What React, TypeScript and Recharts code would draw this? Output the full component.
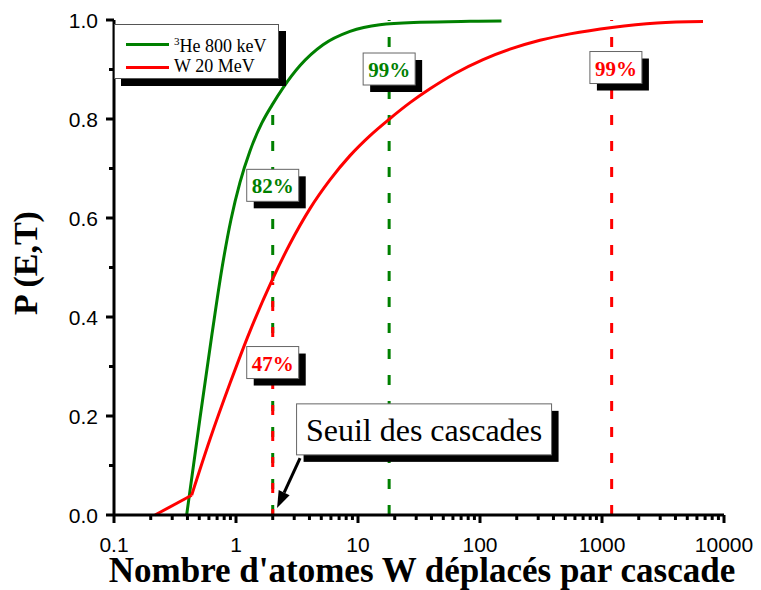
import {
  LineChart,
  Line,
  XAxis,
  YAxis,
  ReferenceLine,
  ReferenceDot,
} from "recharts";

// P(E,T) vs number of displaced W atoms per cascade
const HE_X = [0.394, 0.507, 0.636, 0.768, 0.91, 1.078, 1.3, 1.63, 1.973, 2.43, 3.35, 5.17, 8.6, 15.1, 32.2, 82.8, 150];
const HE_P = [0, 0.196, 0.366, 0.499, 0.597, 0.672, 0.735, 0.792, 0.828, 0.863, 0.908, 0.95, 0.977, 0.9905, 0.9954, 0.9974, 0.998];

const W_X = [0.217, 0.433, 0.612, 0.893, 1.3, 1.973, 2.77, 4.04, 5.89, 8.6, 12.5, 17.9, 26.7, 38.9, 62.4, 106, 176, 310, 547, 1208, 2824, 6730];
const W_P = [0, 0.04, 0.153, 0.266, 0.371, 0.474, 0.548, 0.619, 0.677, 0.726, 0.766, 0.799, 0.833, 0.861, 0.892, 0.92, 0.941, 0.959, 0.972, 0.985, 0.994, 0.997];

const MAJOR_X = [0.1, 1, 10, 100, 1000, 10000];
const MINOR_MULT = [2, 3, 4, 5, 6, 7, 8, 9];
const Y_TICKS = [0, 0.1, 0.2, 0.3, 0.4, 0.5, 0.6, 0.7, 0.8, 0.9, 1.0];

const GREEN = "#008000";
const RED = "#ff0000";

const heData = HE_X.map((x, i) => ({ x, y: HE_P[i] }));
const wData = W_X.map((x, i) => ({ x, y: W_P[i] }));
// the W curve has a sharp knee at its second point
const wFoot = wData.slice(0, 2);
const wBody = wData.slice(1);

const MINOR_X = MAJOR_X.slice(0, -1).flatMap((d) => MINOR_MULT.map((m) => +(d * m).toPrecision(3)));
const X_TICKS = [...MAJOR_X, ...MINOR_X].sort((a, b) => a - b);

// dashed guides: x position, height reached
const GUIDES = [
  { x: 2, top: 0.82, color: GREEN, offset: 0 },
  { x: 18, top: 1, color: GREEN, offset: 0 },
  { x: 2, top: 0.47, color: RED, offset: 4 },
  { x: 1200, top: 1, color: RED, offset: 0 },
];

const TAGS = [
  { text: "82%", x: 2, y: 0.666, color: GREEN },
  { text: "99%", x: 18, y: 0.901, color: GREEN },
  { text: "47%", x: 2, y: 0.308, color: RED },
  { text: "99%", x: 1300, y: 0.904, color: RED },
];

const SANS = "'Liberation Sans', Arial, sans-serif";
const SERIF = "'Liberation Serif', 'Times New Roman', serif";

const isMajorX = (v: number) => MAJOR_X.some((m) => Math.abs(m - v) < 1e-9);

const XTick = ({ x, y, payload }: any) => {
  const major = isMajorX(payload.value);
  return (
    <g>
      <line x1={x} x2={x} y1={y} y2={y + (major ? 8 : 5)} stroke="#000" strokeWidth={3} />
      {major && (
        <text x={x} y={y + 29} textAnchor="middle" dominantBaseline="central" fontSize={21} fontFamily={SANS} fill="#000">
          {String(payload.value)}
        </text>
      )}
    </g>
  );
};

const YTick = ({ x, y, payload }: any) => {
  const major = Math.round(payload.value * 10) % 2 === 0;
  return (
    <g>
      <line x1={x} x2={x - (major ? 8 : 5)} y1={y} y2={y} stroke="#000" strokeWidth={3} />
      {major && (
        <text x={x - 16} y={y} textAnchor="end" dominantBaseline="central" fontSize={21} fontFamily={SANS} fill="#000">
          {payload.value.toFixed(1)}
        </text>
      )}
    </g>
  );
};

const TopTick = ({ x, y }: any) => <line x1={x} x2={x} y1={y} y2={y - 3} stroke="#000" strokeWidth={2} />;
const RightTick = ({ x, y }: any) => <line x1={x} x2={x + 3} y1={y} y2={y} stroke="#000" strokeWidth={2} />;

const boxShape = (text: string, color: string, w: number, h: number, size: number, bold: boolean) => (p: any) => {
  const left = p.cx - w / 2;
  const top = p.cy - h / 2;
  return (
    <g>
      <rect x={left + 7} y={top + 7} width={w} height={h} fill="#000" />
      <rect x={left} y={top} width={w} height={h} fill="#fff" stroke="#666" strokeWidth={1} />
      <text
        x={p.cx}
        y={p.cy + 1}
        textAnchor="middle"
        dominantBaseline="central"
        fontSize={size}
        fontWeight={bold ? "bold" : "normal"}
        fontFamily={SERIF}
        fill={color}
      >
        {text}
      </text>
    </g>
  );
};

const arrowShape = (p: any) => {
  const { x1, y1, x2, y2 } = p;
  const ang = Math.atan2(y2 - y1, x2 - x1);
  const len = 17;
  const half = 6;
  const bx = x2 - len * Math.cos(ang);
  const by = y2 - len * Math.sin(ang);
  const px = -Math.sin(ang) * half;
  const py = Math.cos(ang) * half;
  return (
    <g>
      <line x1={x1} y1={y1} x2={bx} y2={by} stroke="#000" strokeWidth={3} />
      <polygon points={`${x2},${y2} ${bx + px},${by + py} ${bx - px},${by - py}`} fill="#000" />
    </g>
  );
};

export default function App() {
  return (
    <div style={{ position: "absolute", left: 0, top: 0, width: 761, height: 590, background: "#fff" }}>
      <LineChart width={761} height={590} margin={{ top: 20, right: 37, left: 54, bottom: 0 }}>
        <XAxis
          dataKey="x"
          type="number"
          scale="log"
          domain={[0.1, 10000]}
          allowDataOverflow
          ticks={X_TICKS}
          interval={0}
          tick={<XTick />}
          tickLine={false}
          tickSize={0}
          tickMargin={0}
          height={75}
          axisLine={{ stroke: "#000", strokeWidth: 3 }}
          label={{
            content: (p: any) => (
              <text
                x={p.viewBox.x + p.viewBox.width / 2 + 3}
                y={p.viewBox.y + 67}
                textAnchor="middle"
                fontSize={35}
                fontWeight="bold"
                fontFamily={SERIF}
                fill="#000"
              >
                Nombre d'atomes W déplacés par cascade
              </text>
            ),
          }}
        />
        <XAxis
          xAxisId="top"
          orientation="top"
          dataKey="x"
          type="number"
          scale="log"
          domain={[0.1, 10000]}
          allowDataOverflow
          ticks={X_TICKS}
          interval={0}
          tick={<TopTick />}
          tickLine={false}
          tickSize={0}
          tickMargin={0}
          height={0}
          axisLine={{ stroke: "#000", strokeWidth: 3 }}
        />
        <YAxis
          type="number"
          domain={[0, 1]}
          ticks={Y_TICKS}
          interval={0}
          tick={<YTick />}
          tickLine={false}
          tickSize={0}
          tickMargin={0}
          width={60}
          axisLine={{ stroke: "#000", strokeWidth: 3 }}
          label={{
            content: () => (
              <text
                x={25}
                y={263}
                transform="rotate(-90, 25, 263)"
                textAnchor="middle"
                dominantBaseline="central"
                fontSize={34}
                fontWeight="bold"
                fontFamily={SERIF}
                fill="#000"
              >
                P (E,T)
              </text>
            ),
          }}
        />
        <YAxis
          yAxisId="right"
          orientation="right"
          type="number"
          domain={[0, 1]}
          ticks={Y_TICKS}
          interval={0}
          tick={<RightTick />}
          tickLine={false}
          tickSize={0}
          tickMargin={0}
          width={0}
          axisLine={{ stroke: "#000", strokeWidth: 3 }}
        />

        {GUIDES.map((g, i) => (
          <ReferenceLine
            key={"g" + i}
            segment={[
              { x: g.x, y: 0 },
              { x: g.x, y: g.top },
            ]}
            stroke={g.color}
            strokeWidth={3}
            strokeDasharray="10 16"
            strokeDashoffset={g.offset}
          />
        ))}

        <Line data={heData} dataKey="y" type="monotone" stroke={GREEN} strokeWidth={3} dot={false} isAnimationActive={false} />
        <Line data={wFoot} dataKey="y" type="linear" stroke={RED} strokeWidth={3} dot={false} isAnimationActive={false} />
        <Line data={wBody} dataKey="y" type="monotone" stroke={RED} strokeWidth={3} dot={false} isAnimationActive={false} />

        <ReferenceLine
          segment={[
            { x: 3.35, y: 0.115 },
            { x: 2.17, y: 0.014 },
          ]}
          shape={arrowShape}
        />

        {TAGS.map((t, i) => (
          <ReferenceDot key={"t" + i} x={t.x} y={t.y} r={0} shape={boxShape(t.text, t.color, 52, 32, 21, true)} />
        ))}
        <ReferenceDot x={34.8} y={0.173} r={0} shape={boxShape("Seuil des cascades", "#000", 255, 51, 32, false)} />
      </LineChart>

      <div
        style={{
          position: "absolute",
          left: 114,
          top: 24,
          width: 163,
          height: 53,
          border: "1px solid #555",
          background: "#fff",
          boxShadow: "7px 7px 0 #000",
          fontFamily: SERIF,
          fontSize: 18,
          color: "#000",
        }}
      >
        <div style={{ position: "absolute", left: 11, top: 18, width: 43, height: 3, background: GREEN }} />
        <div style={{ position: "absolute", left: 59, top: 6, whiteSpace: "nowrap", lineHeight: "20px" }}>
          <sup style={{ fontSize: 11 }}>3</sup>He 800 keV
        </div>
        <div style={{ position: "absolute", left: 11, top: 41, width: 43, height: 3, background: RED }} />
        <div style={{ position: "absolute", left: 59, top: 31, whiteSpace: "nowrap", lineHeight: "20px" }}>W 20 MeV</div>
      </div>
    </div>
  );
}
